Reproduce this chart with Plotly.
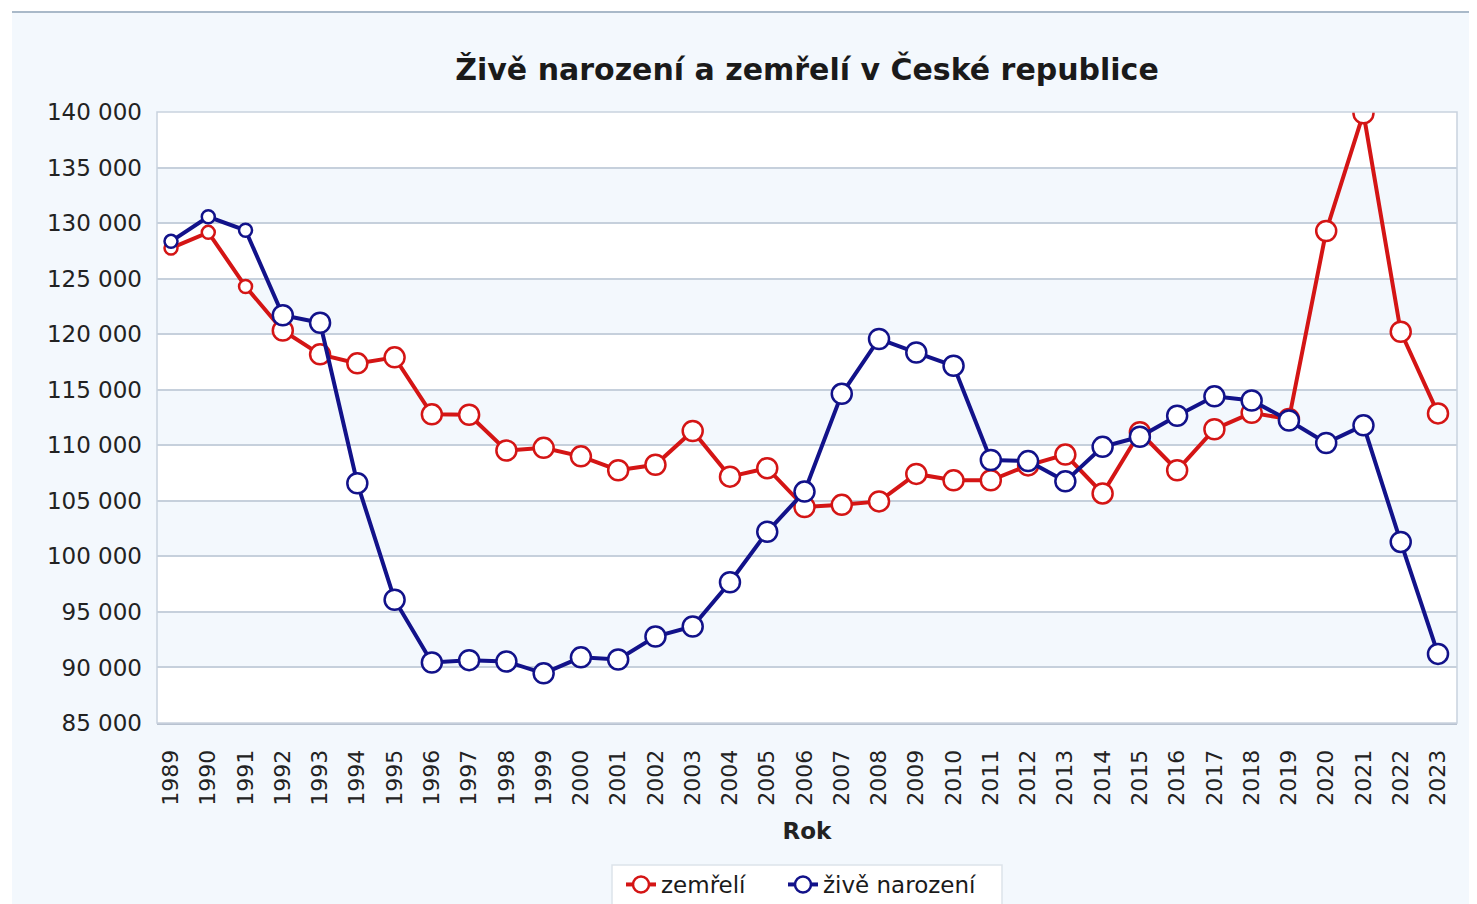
import plotly.graph_objects as go

roky = [str(r) for r in range(1989, 2024)]

zemreli = [127747, 129166, 124290, 120337, 118185, 117373, 117913, 112782, 112744, 109527,
           109768, 109001, 107755, 108243, 111288, 107177, 107938, 104441, 104636, 104948,
           107421, 106844, 106848, 108189, 109160, 105665, 111173, 107750, 111443, 112920,
           112362, 129289, 139891, 120219, 112870]

zive_narozeni = [128356, 130564, 129354, 121705, 121025, 106579, 96097, 90446, 90657, 90535,
                 89471, 90910, 90715, 92786, 93685, 97664, 102211, 105831, 114632, 119570,
                 118348, 117153, 108673, 108576, 106751, 109860, 110764, 112663, 114405, 114036,
                 112231, 110200, 111793, 101299, 91222]

y_ticks = list(range(85000, 140001, 5000))

RED = "#d41515"
BLUE = "#12128a"
FONT = "DejaVu Sans"

# first few points are drawn smaller in the original
sizes = [13, 13, 13] + [20] * (len(roky) - 3)

fig = go.Figure()
fig.add_trace(go.Scatter(
    x=roky, y=zemreli, name="zemřelí", mode="lines+markers", legend="legend",
    line=dict(color=RED, width=4),
    marker=dict(symbol="circle", size=sizes, color="white", opacity=1,
                line=dict(color=RED, width=2.5)),
))
fig.add_trace(go.Scatter(
    x=roky, y=zive_narozeni, name="živě narození", mode="lines+markers", legend="legend2",
    line=dict(color=BLUE, width=4),
    marker=dict(symbol="circle", size=sizes, color="white", opacity=1,
                line=dict(color=BLUE, width=2.5)),
))

# the page body has an 8px margin, so the figure is 8px smaller than the window
OFF = 8
W, H = 1477 - OFF, 904 - OFF
L, T = 157 - OFF, 112 - OFF
R = W - (1457 - OFF)
B = H - (723 - OFF)
PW, PH = W - L - R, H - T - B


def px(xp):
    return (xp - OFF - L) / PW


def py(yp):
    return (H - B - (yp - OFF)) / PH


# alternating bands in the plot area
shapes = []
for i, lo in enumerate(y_ticks[:-1]):
    if i % 2 == 1:
        shapes.append(dict(type="rect", xref="paper", yref="y", x0=0, x1=1, y0=lo, y1=lo + 5000,
                           fillcolor="#f3f8fd", line=dict(width=0), layer="below"))

# page decoration: white strip on top / left and a thin rule
shapes.append(dict(type="rect", xref="paper", yref="paper", x0=px(0), x1=px(1477), y0=py(12), y1=py(0),
                   fillcolor="white", line=dict(width=0), layer="below"))
shapes.append(dict(type="rect", xref="paper", yref="paper", x0=px(0), x1=px(12), y0=py(904), y1=py(0),
                   fillcolor="white", line=dict(width=0), layer="below"))
shapes.append(dict(type="line", xref="paper", yref="paper", x0=px(12), x1=px(1477), y0=py(12), y1=py(12),
                   line=dict(color="#a9b9c9", width=2)))
# plot frame
shapes.append(dict(type="rect", xref="paper", yref="paper", x0=0, x1=1, y0=0, y1=1,
                   line=dict(color="#c9d2de", width=1.5), layer="above"))
# legend box (both legends share it)
shapes.append(dict(type="rect", xref="paper", yref="paper", x0=px(612), x1=px(1002), y0=py(915), y1=py(865),
                   fillcolor="white", line=dict(color="#dde3ea", width=1.5), layer="below"))

legend_style = dict(orientation="h", yanchor="bottom", y=py(906), xanchor="left",
                    bgcolor="rgba(0,0,0,0)", borderwidth=0, itemwidth=30,
                    font=dict(size=23, color="#1a1a1a"))

fig.update_layout(
    width=W, height=H,
    margin=dict(l=L, r=R, t=T, b=B, autoexpand=False),
    paper_bgcolor="#f3f8fd",
    plot_bgcolor="white",
    separators=", ",
    showlegend=True,
    font=dict(family=FONT, size=22, color="#222222"),
    title=dict(text="<b>Živě narození a zemřelí v České republice</b>", x=0.5, xref="paper",
               xanchor="center", y=1 - (69 - OFF) / H, yanchor="middle",
               font=dict(family=FONT, size=30, color="#1a1a1a")),
    xaxis=dict(
        type="category", range=[-0.376, 34.51], tickangle=-90,
        tickfont=dict(size=22, color="#222222"), ticks="", showgrid=False,
        ticklabelstandoff=16, automargin=False,
        title=dict(text="<b>Rok</b>", font=dict(size=23, color="#222222"), standoff=18),
        showline=True, linecolor="#b8c2d0", linewidth=2,
    ),
    yaxis=dict(
        range=[85000, 140000], tickvals=y_ticks, tickformat=",d", automargin=False,
        tickfont=dict(size=23, color="#222222"), ticks="", ticklabelstandoff=14,
        showgrid=True, gridcolor="#c6d0dc", gridwidth=1.5, zeroline=False,
    ),
    legend=dict(legend_style, x=px(621)),
    legend2=dict(legend_style, x=px(783)),
    shapes=shapes,
)

fig.write_html("out.html")
